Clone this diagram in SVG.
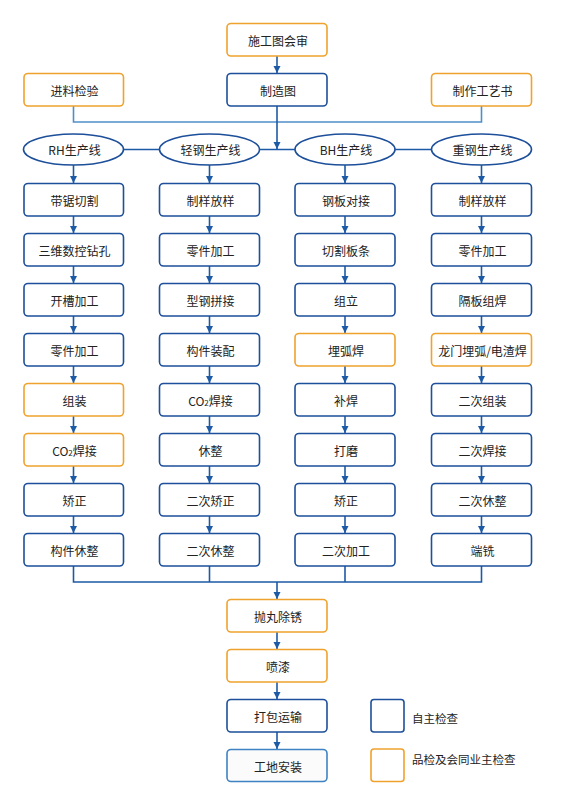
<svg xmlns="http://www.w3.org/2000/svg" width="566" height="799" viewBox="0 0 566 799">
<style>
.b{fill:#fff;stroke:#1d4f9a;stroke-width:1.6}
.o{fill:#fff;stroke:#f0a22e;stroke-width:1.6}
.e{fill:#fff;stroke:#1d4f9a;stroke-width:1.6}
.t{font-family:"Noto Sans CJK SC","Noto Sans",sans-serif;font-size:12px;fill:#222;text-anchor:middle;dominant-baseline:central}
.tl{font-family:"Noto Sans CJK SC","Noto Sans",sans-serif;font-size:11.5px;fill:#222;dominant-baseline:central}
.c{fill:none;stroke:#1d5aa6;stroke-width:1.6}
.a{fill:none;stroke:#1d5aa6;stroke-width:1.6;marker-end:url(#ah)}
.lc{fill:none;stroke:#4f8fc8;stroke-width:1.6}
</style>
<defs>
<marker id="ah" markerUnits="userSpaceOnUse" markerWidth="8" markerHeight="8" refX="7" refY="4" orient="auto">
<path d="M0,0.5 L7,4 L0,7.5 z" fill="#1d5aa6"/>
</marker>
</defs>
<rect width="566" height="799" fill="#fff"/>
<g id="connectors">
<line class="a" x1="277" y1="56" x2="277" y2="73"/>
<path class="lc" d="M73.5,106 V122 H481.5 V106"/>
<line class="a" x1="277" y1="106" x2="277" y2="149"/>
<path class="c" d="M123,149.5 H159.5 M259.5,149.5 H295 M395,149.5 H431.5"/>
<line class="a" x1="73.5" y1="165" x2="73.5" y2="183"/>
<line class="a" x1="209.5" y1="165" x2="209.5" y2="183"/>
<line class="a" x1="345" y1="165" x2="345" y2="183"/>
<line class="a" x1="481.5" y1="165" x2="481.5" y2="183"/>
<g>
<line class="a" x1="73.5" y1="216" x2="73.5" y2="233"/><line class="a" x1="73.5" y1="266" x2="73.5" y2="283"/><line class="a" x1="73.5" y1="316" x2="73.5" y2="333"/><line class="a" x1="73.5" y1="366" x2="73.5" y2="383"/><line class="a" x1="73.5" y1="416" x2="73.5" y2="433"/><line class="a" x1="73.5" y1="466" x2="73.5" y2="483"/><line class="a" x1="73.5" y1="516" x2="73.5" y2="533"/>
<line class="a" x1="209.5" y1="216" x2="209.5" y2="233"/><line class="a" x1="209.5" y1="266" x2="209.5" y2="283"/><line class="a" x1="209.5" y1="316" x2="209.5" y2="333"/><line class="a" x1="209.5" y1="366" x2="209.5" y2="383"/><line class="a" x1="209.5" y1="416" x2="209.5" y2="433"/><line class="a" x1="209.5" y1="466" x2="209.5" y2="483"/><line class="a" x1="209.5" y1="516" x2="209.5" y2="533"/>
<line class="a" x1="345" y1="216" x2="345" y2="233"/><line class="a" x1="345" y1="266" x2="345" y2="283"/><line class="a" x1="345" y1="316" x2="345" y2="333"/><line class="a" x1="345" y1="366" x2="345" y2="383"/><line class="a" x1="345" y1="416" x2="345" y2="433"/><line class="a" x1="345" y1="466" x2="345" y2="483"/><line class="a" x1="345" y1="516" x2="345" y2="533"/>
<line class="a" x1="481.5" y1="216" x2="481.5" y2="233"/><line class="a" x1="481.5" y1="266" x2="481.5" y2="283"/><line class="a" x1="481.5" y1="316" x2="481.5" y2="333"/><line class="a" x1="481.5" y1="366" x2="481.5" y2="383"/><line class="a" x1="481.5" y1="416" x2="481.5" y2="433"/><line class="a" x1="481.5" y1="466" x2="481.5" y2="483"/><line class="a" x1="481.5" y1="516" x2="481.5" y2="533"/>
</g>
<path class="c" d="M73.5,566 V582 H481.5 V566 M209.5,566 V582 M345,566 V582"/>
<line class="a" x1="277" y1="582" x2="277" y2="599"/>
<line class="a" x1="277" y1="632" x2="277" y2="649"/>
<line class="a" x1="277" y1="682" x2="277" y2="699"/>
<line class="a" x1="277" y1="732" x2="277" y2="749"/>
</g>
<g id="n-shigong"><rect class="o" x="227" y="23.5" width="100" height="32.5" rx="4"/><text class="t" x="278" y="40">施工图会审</text></g>
<g id="n-zhizaotu"><rect class="b" x="227" y="73.5" width="100" height="32.5" rx="4"/><text class="t" x="278" y="90">制造图</text></g>
<g id="n-jinliao"><rect class="o" x="24" y="73.5" width="99.5" height="32.5" rx="4"/><text class="t" x="74.5" y="90">进料检验</text></g>
<g id="n-gongyi"><rect class="o" x="431.5" y="73.5" width="100" height="32.5" rx="4"/><text class="t" x="482.5" y="90">制作工艺书</text></g>
<g id="n-rh"><ellipse class="e" cx="73.5" cy="149.5" rx="50" ry="15.5"/><text class="t" x="74.5" y="149.5">RH生产线</text></g>
<g id="n-qg"><ellipse class="e" cx="209.5" cy="149.5" rx="50" ry="15.5"/><text class="t" x="210.5" y="149.5">轻钢生产线</text></g>
<g id="n-bh"><ellipse class="e" cx="345" cy="149.5" rx="50" ry="15.5"/><text class="t" x="346" y="149.5">BH生产线</text></g>
<g id="n-zg"><ellipse class="e" cx="481.5" cy="149.5" rx="50" ry="15.5"/><text class="t" x="482.5" y="149.5">重钢生产线</text></g>
<g id="n-rh1"><rect class="b" x="24" y="183.5" width="99.5" height="32.5" rx="4"/><text class="t" x="74.5" y="200">带锯切割</text></g>
<g id="n-rh2"><rect class="b" x="24" y="233.5" width="99.5" height="32.5" rx="4"/><text class="t" x="74.5" y="250">三维数控钻孔</text></g>
<g id="n-rh3"><rect class="b" x="24" y="283.5" width="99.5" height="32.5" rx="4"/><text class="t" x="74.5" y="300">开槽加工</text></g>
<g id="n-rh4"><rect class="b" x="24" y="333.5" width="99.5" height="32.5" rx="4"/><text class="t" x="74.5" y="350">零件加工</text></g>
<g id="n-rh5"><rect class="o" x="24" y="383.5" width="99.5" height="32.5" rx="4"/><text class="t" x="74.5" y="400">组装</text></g>
<g id="n-rh6"><rect class="o" x="24" y="433.5" width="99.5" height="32.5" rx="4"/><text class="t" x="74.5" y="450">CO<tspan font-size="8" dy="2">2</tspan><tspan dy="-2">焊接</tspan></text></g>
<g id="n-rh7"><rect class="b" x="24" y="483.5" width="99.5" height="32.5" rx="4"/><text class="t" x="74.5" y="500">矫正</text></g>
<g id="n-rh8"><rect class="b" x="24" y="533.5" width="99.5" height="32.5" rx="4"/><text class="t" x="74.5" y="550">构件休整</text></g>
<g id="n-qg1"><rect class="b" x="159.5" y="183.5" width="100" height="32.5" rx="4"/><text class="t" x="210.5" y="200">制样放样</text></g>
<g id="n-qg2"><rect class="b" x="159.5" y="233.5" width="100" height="32.5" rx="4"/><text class="t" x="210.5" y="250">零件加工</text></g>
<g id="n-qg3"><rect class="b" x="159.5" y="283.5" width="100" height="32.5" rx="4"/><text class="t" x="210.5" y="300">型钢拼接</text></g>
<g id="n-qg4"><rect class="b" x="159.5" y="333.5" width="100" height="32.5" rx="4"/><text class="t" x="210.5" y="350">构件装配</text></g>
<g id="n-qg5"><rect class="b" x="159.5" y="383.5" width="100" height="32.5" rx="4"/><text class="t" x="210.5" y="400">CO<tspan font-size="8" dy="2">2</tspan><tspan dy="-2">焊接</tspan></text></g>
<g id="n-qg6"><rect class="b" x="159.5" y="433.5" width="100" height="32.5" rx="4"/><text class="t" x="210.5" y="450">休整</text></g>
<g id="n-qg7"><rect class="b" x="159.5" y="483.5" width="100" height="32.5" rx="4"/><text class="t" x="210.5" y="500">二次矫正</text></g>
<g id="n-qg8"><rect class="b" x="159.5" y="533.5" width="100" height="32.5" rx="4"/><text class="t" x="210.5" y="550">二次休整</text></g>
<g id="n-bh1"><rect class="b" x="295" y="183.5" width="100" height="32.5" rx="4"/><text class="t" x="346" y="200">钢板对接</text></g>
<g id="n-bh2"><rect class="b" x="295" y="233.5" width="100" height="32.5" rx="4"/><text class="t" x="346" y="250">切割板条</text></g>
<g id="n-bh3"><rect class="b" x="295" y="283.5" width="100" height="32.5" rx="4"/><text class="t" x="346" y="300">组立</text></g>
<g id="n-bh4"><rect class="o" x="295" y="333.5" width="100" height="32.5" rx="4"/><text class="t" x="346" y="350">埋弧焊</text></g>
<g id="n-bh5"><rect class="b" x="295" y="383.5" width="100" height="32.5" rx="4"/><text class="t" x="346" y="400">补焊</text></g>
<g id="n-bh6"><rect class="b" x="295" y="433.5" width="100" height="32.5" rx="4"/><text class="t" x="346" y="450">打磨</text></g>
<g id="n-bh7"><rect class="b" x="295" y="483.5" width="100" height="32.5" rx="4"/><text class="t" x="346" y="500">矫正</text></g>
<g id="n-bh8"><rect class="b" x="295" y="533.5" width="100" height="32.5" rx="4"/><text class="t" x="346" y="550">二次加工</text></g>
<g id="n-zg1"><rect class="b" x="431.5" y="183.5" width="100" height="32.5" rx="4"/><text class="t" x="482.5" y="200">制样放样</text></g>
<g id="n-zg2"><rect class="b" x="431.5" y="233.5" width="100" height="32.5" rx="4"/><text class="t" x="482.5" y="250">零件加工</text></g>
<g id="n-zg3"><rect class="b" x="431.5" y="283.5" width="100" height="32.5" rx="4"/><text class="t" x="482.5" y="300">隔板组焊</text></g>
<g id="n-zg4"><rect class="o" x="431.5" y="333.5" width="100" height="32.5" rx="4"/><text class="t" x="482.5" y="350">龙门埋弧/电渣焊</text></g>
<g id="n-zg5"><rect class="b" x="431.5" y="383.5" width="100" height="32.5" rx="4"/><text class="t" x="482.5" y="400">二次组装</text></g>
<g id="n-zg6"><rect class="b" x="431.5" y="433.5" width="100" height="32.5" rx="4"/><text class="t" x="482.5" y="450">二次焊接</text></g>
<g id="n-zg7"><rect class="b" x="431.5" y="483.5" width="100" height="32.5" rx="4"/><text class="t" x="482.5" y="500">二次休整</text></g>
<g id="n-zg8"><rect class="b" x="431.5" y="533.5" width="100" height="32.5" rx="4"/><text class="t" x="482.5" y="550">端铣</text></g>
<g id="n-paowan"><rect class="o" x="227" y="599.5" width="100" height="32.5" rx="4"/><text class="t" x="278" y="616">抛丸除锈</text></g>
<g id="n-penqi"><rect class="o" x="227" y="649.5" width="100" height="32.5" rx="4"/><text class="t" x="278" y="666">喷漆</text></g>
<g id="n-dabao"><rect class="b" x="227" y="699.5" width="100" height="32.5" rx="4"/><text class="t" x="278" y="716">打包运输</text></g>
<g id="n-gongdi"><rect x="227" y="749.5" width="100" height="32" rx="4" fill="#fbfbfb" stroke="#3f82c2" stroke-width="1.6"/><text class="t" x="278" y="766">工地安装</text></g>
<g id="legend">
<rect class="b" x="371" y="699.5" width="33" height="32.5" rx="3"/>
<text class="tl" x="412" y="718">自主检查</text>
<rect class="o" x="371" y="749" width="33" height="32.5" rx="3"/>
<text class="tl" x="412" y="759">品检及会同业主检查</text>
</g>
</svg>
